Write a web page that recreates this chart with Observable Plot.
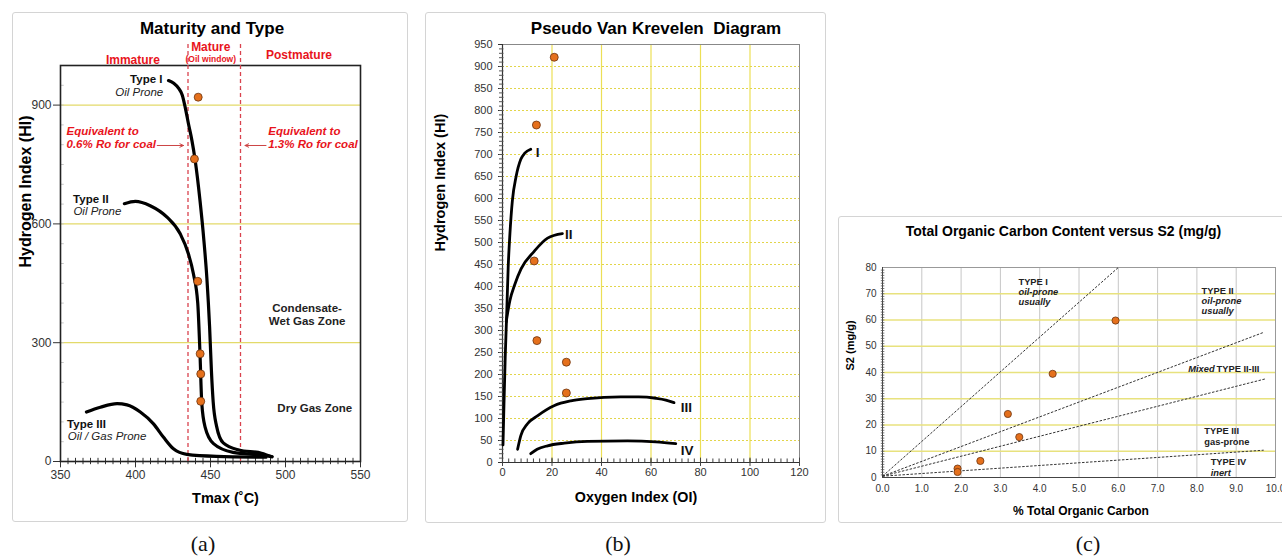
<!DOCTYPE html>
<html><head><meta charset="utf-8">
<script src="https://cdn.jsdelivr.net/npm/d3@7"></script>
<script src="https://cdn.jsdelivr.net/npm/@observablehq/plot@0.6"></script>
<style>
body{margin:0;background:#fff;}
#root{position:relative;width:1282px;height:557px;overflow:hidden;font-family:"Liberation Sans",Arial,sans-serif;}
.frame{position:absolute;border:1.5px solid #d4d4d4;border-radius:3px;box-sizing:border-box;}
.panel{position:absolute;}
.cap{position:absolute;font-family:"Liberation Serif","Times New Roman",serif;font-size:22px;transform:translateX(-50%);color:#111;line-height:1;}
</style></head><body><div id="root"></div>
<script>
// ---------- Panel (a): Maturity and Type ----------
const aXTicks = [350, 400, 450, 500, 550];
const aYTicks = [0, 300, 600, 900];
const aGridHI = [300, 600, 900];
const aMinorT = d3.range(355, 550, 5);
const aMinorHI = d3.range(50, 1000, 50);
const aMaturityBounds = [435, 470];
const aTypeI = [[422,962],[425.5,955],[428.8,942],[431.2,925],[433.1,895],[435.3,853],[437.6,811],[439.8,760],[443,659],[445.6,558],[447.6,462],[449.4,340],[450.6,230],[451.8,150],[454,90],[458.5,47],[469,29],[484,21],[491,12]];
const aTypeII = [[392.6,651],[399.9,657],[409.8,646],[421,617],[429.8,575],[435.3,524],[438.6,474],[441.5,400],[443,272],[444.2,146],[446.4,87],[452,45],[465,23],[487,15],[491,12]];
const aTypeIII = [[367.3,125],[376.6,137],[387.7,146],[394.3,143],[403.2,125],[412,95],[418.7,61],[425.3,32],[434.2,18],[454,13],[487,11]];
const aDotTmax = [441.8, 439.3, 441.5, 443.1, 443.5, 443.5];
const aDotHI = [920, 764, 455, 272, 221, 152];

// ---------- Panel (b): Pseudo Van Krevelen ----------
const bXTicks = [0, 20, 40, 60, 80, 100, 120];
const bYTicks = d3.range(0, 951, 50);
const bGridOI = [20, 40, 60, 80, 100];
const bGridHI = d3.range(50, 901, 50);
const bMinorOI = d3.range(2.5, 120, 2.5);
const bMinorHI = d3.range(10, 950, 10);
const bTypeI = [[0.2,40],[0.6,133],[1.1,240],[1.7,338],[2.3,444],[3,520],[4,596],[5.5,650],[7.4,689],[9,703],[11.4,712]];
const bTypeII = [[1.5,320],[3,368],[5,405],[7.5,440],[12.8,480],[18.2,510],[24.2,520]];
const bTypeIII = [[6.1,30],[7.4,61],[10.1,88],[14.1,106],[20.8,129],[27.6,140],[34.3,145],[47.8,149],[55,149],[62,146],[66,142],[69.3,136]];
const bTypeIV = [[11.4,20],[14,30],[18.2,38],[25,44],[34.3,48],[50.5,49],[62,47],[70,43]];
const bDotOI = [20.9, 13.7, 12.8, 13.9, 25.8, 25.8];
const bDotHI = [921, 767, 458, 277, 228, 158];

// ---------- Panel (c): TOC versus S2 ----------
const cXTicks = d3.range(0, 10.01, 1);
const cYTicks = d3.range(0, 81, 10);
const cGridTOC = d3.range(1, 10, 1);
const cGridS2 = d3.range(10, 71, 10);
const cMinorS2 = d3.range(1, 80, 1);
const cTypeLines = [[0, 0.5, 6.0, 80], [0, 0.5, 9.7, 55.3], [0, 0.5, 9.75, 37.6], [0, 0.5, 9.7, 10.4]];
const cDotTOC = [5.93, 4.33, 3.19, 3.48, 2.49, 1.91, 1.91];
const cDotS2 = [59.8, 39.5, 24.2, 15.4, 6.3, 3.4, 2.1];

// ---------- styling ----------
const FONT = "'Liberation Sans', Arial, Helvetica, sans-serif";
const DOT = {r: 4, fill: "#e5701c", stroke: "#6b3410", strokeWidth: 0.8};
const RED = "#e8141c";
const idx = a => d3.range(a.length);

const root = document.getElementById("root");
function place(el, left, top, w) {
  const d = document.createElement("div");
  d.className = "panel";
  d.style.left = left + "px"; d.style.top = top + "px"; d.style.width = w + "px";
  d.appendChild(el);
  root.appendChild(d);
}
function frame(l, t, w, h) {
  const d = document.createElement("div");
  d.className = "frame";
  Object.assign(d.style, {left: l + "px", top: t + "px", width: w + "px", height: h + "px"});
  root.appendChild(d);
}
function cap(text, x, y) {
  const d = document.createElement("div");
  d.className = "cap"; d.textContent = text;
  d.style.left = x + "px"; d.style.top = y + "px";
  root.appendChild(d);
}
frame(12, 12, 396, 510);
frame(425, 12, 401, 511);
frame(838, 216, 460, 307);

const line = (data, opts = {}) => Plot.line(data, {x: d => d[0], y: d => d[1], curve: "monotone-x", stroke: "#000", strokeWidth: 3.2, strokeLinecap: "round", ...opts});

// ---- Panel a ----
const pA = Plot.plot({
  width: 395, height: 510, marginLeft: 48, marginRight: 47, marginTop: 53, marginBottom: 61,
  style: {fontFamily: FONT, fontSize: "12px", color: "#333", background: "transparent", overflow: "visible"},
  x: {domain: [350, 550], ticks: aXTicks, tickSize: 0, tickPadding: 9, label: null},
  y: {domain: [0, 1000], ticks: aYTicks, tickSize: 7, tickPadding: 2, label: null},
  marks: [
    Plot.ruleY(aGridHI, {stroke: "#e3da6a", strokeWidth: 1.3}),
    Plot.ruleY(aMinorHI, {x1: 350, x2: 352.5, stroke: "#c8c8c8"}),
    Plot.ruleX(aMinorT, {y1: -8, y2: 8, stroke: "#333"}),
    Plot.ruleX(aXTicks, {y1: -16, y2: 8, stroke: "#333"}),
    Plot.frame({stroke: "#222", strokeWidth: 1.6}),
    Plot.ruleX(aMaturityBounds, {y1: 0, y2: 1060, stroke: "#d9434e", strokeDasharray: "4,3", strokeWidth: 1.3}),
    line(aTypeIII), line(aTypeII), line(aTypeI),
    Plot.dot(idx(aDotHI), {x: i => aDotTmax[i], y: i => aDotHI[i], ...DOT}),
    // zone labels
    Plot.text(["Immature"], {x: 398.3, y: 1014, fill: RED, fontWeight: "bold", fontSize: 12}),
    Plot.text(["Mature"], {x: 450.2, y: 1046, fill: RED, fontWeight: "bold", fontSize: 12}),
    Plot.text(["(Oil window)"], {x: 450.2, y: 1017, fill: RED, fontWeight: "bold", fontSize: 8.5}),
    Plot.text(["Postmature"], {x: 509, y: 1025, fill: RED, fontWeight: "bold", fontSize: 12}),
    Plot.text(["Equivalent to", "0.6% Ro for coal"], {x: 354, y: (d, i) => [833, 800][i], textAnchor: "start", fill: RED, fontWeight: "bold", fontStyle: "italic", fontSize: 11.5}),
    Plot.text(["Equivalent to", "1.3% Ro for coal"], {x: 488.5, y: (d, i) => [833, 800][i], textAnchor: "start", fill: RED, fontWeight: "bold", fontStyle: "italic", fontSize: 11.5}),
    Plot.arrow([[414.5, 432], [487, 473]], {x1: d => d[0], x2: d => d[1], y1: 798, y2: 798, stroke: "#c44", strokeWidth: 1, headLength: 6, headAngle: 50}),
    // type labels
    Plot.text(["Type I"], {x: 418, y: 966, textAnchor: "end", fontWeight: "bold", fontSize: 11.5, fill: "#111"}),
    Plot.text(["Oil Prone"], {x: 418.5, y: 933, textAnchor: "end", fontStyle: "italic", fontSize: 11.5, fill: "#222"}),
    Plot.text(["Type II"], {x: 358.4, y: 662, textAnchor: "start", fontWeight: "bold", fontSize: 11.5, fill: "#111"}),
    Plot.text(["Oil Prone"], {x: 358.6, y: 632, textAnchor: "start", fontStyle: "italic", fontSize: 11.5, fill: "#222"}),
    Plot.text(["Type III"], {x: 354.4, y: 93, textAnchor: "start", fontWeight: "bold", fontSize: 11.5, fill: "#111"}),
    Plot.text(["Oil / Gas Prone"], {x: 354.8, y: 64, textAnchor: "start", fontStyle: "italic", fontSize: 11.5, fill: "#222"}),
    Plot.text(["Condensate-", "Wet Gas Zone"], {x: 514.4, y: (d, i) => [388, 354][i], fontWeight: "bold", fontSize: 11.5, fill: "#222"}),
    Plot.text(["Dry Gas Zone"], {x: 519.5, y: 135, fontWeight: "bold", fontSize: 11.5, fill: "#222"}),
    // title & axis labels
    Plot.text(["Maturity and Type"], {frameAnchor: "top", dy: -37, dx: 1.5, lineAnchor: "middle", fontSize: 17, fontWeight: "bold", fill: "#000"}),
    Plot.text(["Hydrogen Index (HI)"], {frameAnchor: "left", dx: -35, dy: 4, rotate: -90, lineAnchor: "middle", fontSize: 16, fontWeight: "bold", fill: "#000"}),
    Plot.text(["Tmax (˚C)"], {frameAnchor: "bottom", dy: 37, dx: 15, lineAnchor: "middle", fontSize: 14.5, fontWeight: "bold", fill: "#000"})
  ]
});
place(pA, 12, 12, 395);

// ---- Panel b ----
const pB = Plot.plot({
  width: 402, height: 510, marginLeft: 77, marginRight: 28, marginTop: 32, marginBottom: 60,
  style: {fontFamily: FONT, fontSize: "11px", color: "#333", background: "transparent", overflow: "visible"},
  x: {domain: [0, 120], ticks: bXTicks, tickSize: 0, tickPadding: 6, label: null},
  y: {domain: [0, 950], ticks: bYTicks, tickSize: 4, tickPadding: 6, label: null},
  marks: [
    Plot.ruleX(bGridOI, {stroke: "#ecdf55", strokeWidth: 1.2}),
    Plot.ruleY(bGridHI, {stroke: "#e2d54a", strokeDasharray: "2,2", strokeWidth: 1}),
    Plot.frame({stroke: "#888"}),
    Plot.ruleX([0], {stroke: "#333", strokeWidth: 1.2}),
    Plot.ruleY([0], {stroke: "#333", strokeWidth: 1.2}),
    Plot.ruleY(bMinorHI, {x1: -1.2, x2: 0.6, stroke: "#555"}),
    Plot.ruleX(bMinorOI, {y1: 0, y2: 8, stroke: "#444"}),
    Plot.ruleX(bXTicks, {y1: -9, y2: 10, stroke: "#444"}),
    line(bTypeI, {strokeWidth: 2.8}), line(bTypeII, {strokeWidth: 2.8}), line(bTypeIII, {strokeWidth: 2.8}), line(bTypeIV, {strokeWidth: 2.8}),
    Plot.dot(idx(bDotHI), {x: i => bDotOI[i], y: i => bDotHI[i], ...DOT}),
    Plot.text(["I", "II", "III", "IV"], {x: (d, i) => [13.4, 25.3, 72, 72][i], y: (d, i) => [705, 518, 125, 27][i], textAnchor: "start", fontWeight: "bold", fontSize: 13.5, fill: "#111"}),
    Plot.text(["Pseudo Van Krevelen\u00a0 Diagram"], {frameAnchor: "top", dy: -16, dx: 5, lineAnchor: "middle", fontSize: 17, fontWeight: "bold", fill: "#000"}),
    Plot.text(["Hydrogen Index (HI)"], {frameAnchor: "left", dx: -62, dy: -2, rotate: -90, lineAnchor: "middle", fontSize: 14.5, fontWeight: "bold", fill: "#000"}),
    Plot.text(["Oxygen Index (OI)"], {frameAnchor: "bottom", dy: 34.5, dx: -15, lineAnchor: "middle", fontSize: 14.3, fontWeight: "bold", fill: "#000"})
  ]
});
place(pB, 425, 12, 402);

// ---- Panel c ----
const cBold = {fontWeight: "bold", fontSize: 9.3, fill: "#222", textAnchor: "start"};
const pC = Plot.plot({
  width: 444, height: 308, marginLeft: 44, marginRight: 7, marginTop: 52, marginBottom: 46,
  style: {fontFamily: FONT, fontSize: "10px", color: "#333", background: "transparent", overflow: "visible"},
  x: {domain: [0, 10], ticks: cXTicks, tickFormat: d => d.toFixed(1), tickSize: 0, tickPadding: 7, label: null},
  y: {domain: [0, 80], ticks: cYTicks, tickSize: 0, tickPadding: 6, label: null},
  marks: [
    Plot.ruleX(cGridTOC, {stroke: "#c6c6c6", strokeWidth: 1}),
    Plot.ruleY(cGridS2, {stroke: "#e8e27e", strokeWidth: 1.4}),
    Plot.frame({stroke: "#999"}),
    Plot.ruleX([0], {stroke: "#444"}),
    Plot.ruleY([0], {stroke: "#444"}),
    Plot.ruleY(cMinorS2, {x1: -0.03, x2: 0.06, stroke: "#555", strokeWidth: 0.8}),
    Plot.link(cTypeLines, {x1: d => d[0], y1: d => d[1], x2: d => d[2], y2: d => d[3], stroke: "#333", strokeWidth: 1, strokeDasharray: "2.5,1.5"}),
    Plot.dot(idx(cDotS2), {x: i => cDotTOC[i], y: i => cDotS2[i], ...DOT, r: 3.6}),
    Plot.text(["TYPE I"], {x: 3.46, y: 74.6, ...cBold}),
    Plot.text(["oil-prone", "usually"], {x: 3.46, y: (d, i) => [70.8, 67][i], ...cBold, fontStyle: "italic"}),
    Plot.text(["TYPE II"], {x: 8.12, y: 71.1, ...cBold}),
    Plot.text(["oil-prone", "usually"], {x: 8.12, y: (d, i) => [67.4, 63.6][i], ...cBold, fontStyle: "italic"}),
    Plot.text(["Mixed"], {x: 7.78, y: 41.5, ...cBold, fontStyle: "italic"}),
    Plot.text(["TYPE II-III"], {x: 8.5, y: 41.5, ...cBold}),
    Plot.text(["TYPE III", "gas-prone"], {x: 8.19, y: (d, i) => [17.7, 13.5][i], ...cBold}),
    Plot.text(["TYPE IV"], {x: 8.35, y: 5.9, ...cBold}),
    Plot.text(["inert"], {x: 8.35, y: 1.75, ...cBold, fontStyle: "italic"}),
    Plot.text(["Total Organic Carbon Content versus S2 (mg/g)"], {frameAnchor: "top", dy: -36, dx: -15.5, lineAnchor: "middle", fontSize: 14, fontWeight: "bold", fill: "#000"}),
    Plot.text(["S2 (mg/g)"], {frameAnchor: "left", dx: -32, dy: -2, rotate: -90, lineAnchor: "middle", fontSize: 11, fontWeight: "bold", fill: "#000"}),
    Plot.text(["% Total Organic Carbon"], {frameAnchor: "bottom", dy: 33.5, dx: 2, lineAnchor: "middle", fontSize: 12, fontWeight: "bold", fill: "#000"})
  ]
});
place(pC, 838, 215, 444);

cap("(a)", 203, 533);
cap("(b)", 618, 533);
cap("(c)", 1088, 533);
</script>
</body></html>
